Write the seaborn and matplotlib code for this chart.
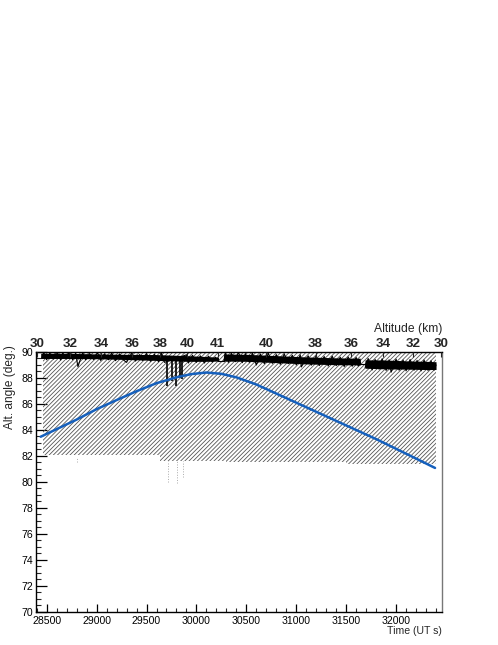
import numpy as np
import pandas as pd
import matplotlib
matplotlib.use("Agg")
import matplotlib.pyplot as plt
import seaborn as sns

# ---------------- data ----------------
# blue curve: time (UT s) vs altitude angle (deg)
blue_t = [28440, 28800, 29000, 29200, 29400, 29600, 29800, 29950, 30100,
          30250, 30400, 30600, 30800, 31000, 31200, 31400, 31600, 31800,
          32000, 32200, 32390]
blue_v = [83.48, 84.8, 85.6, 86.3, 86.98, 87.6, 88.05, 88.3, 88.42,
          88.32, 88.05, 87.5, 86.8, 86.1, 85.4, 84.7, 84.0, 83.3,
          82.55, 81.8, 81.08]

# black measured band: dense core (upper / lower) vs time
band_t = [28440, 28700, 29000, 29300, 29600, 29900, 30100, 30220, 30225,
          30270, 30275, 30500, 30800, 31100, 31400, 31640, 31645, 31685,
          31690, 31900, 32100, 32300, 32400]
band_hi = [89.9, 89.9, 89.85, 89.82, 89.8, 89.72, 89.65, 89.6, 89.32,
           89.32, 89.85, 89.82, 89.72, 89.62, 89.55, 89.52, 89.1, 89.1,
           89.4, 89.38, 89.32, 89.28, 89.25]
band_lo = [89.5, 89.5, 89.48, 89.42, 89.35, 89.28, 89.28, 89.3, 89.28,
           89.28, 89.3, 89.28, 89.18, 89.08, 89.02, 89.0, 89.05, 89.05,
           88.75, 88.7, 88.68, 88.65, 88.65]

# noisy trace of the measurement (time, value), alternating high / low
noise_t = [28450, 28470, 28500, 28530, 28570, 28600, 28640, 28660, 28700,
           28720, 28760, 28790, 28813, 28860, 28890, 28930, 28970, 29010,
           29040, 29080, 29120, 29150, 29190, 29230, 29270, 29300, 29350,
           29390, 29430, 29460, 29500, 29540, 29580, 29620, 29650, 29680,
           29900, 29920, 29960, 30000, 30040, 30080, 30120, 30160, 30190,
           30220]
noise_v = [89.5, 89.98, 89.4, 89.9, 89.45, 90.0, 89.38, 89.92, 89.45,
           89.97, 89.4, 89.9, 88.87, 89.95, 89.4, 89.88, 89.42, 89.95,
           89.35, 89.85, 89.4, 89.92, 89.33, 89.85, 89.38, 89.2, 89.9,
           89.3, 89.8, 89.35, 89.88, 89.28, 89.82, 89.25, 89.9, 89.2,
           89.78, 89.15, 89.75, 89.2, 89.7, 89.15, 89.68, 89.22, 89.6,
           89.3]
noise2_t = [30275, 30290, 30320, 30350, 30390, 30420, 30460, 30490, 30530,
            30560, 30600, 30640, 30680, 30720, 30760, 30800, 30840, 30880,
            30920, 30960, 31000, 31040, 31050, 31120, 31150, 31200, 31230,
            31280, 31320, 31360, 31400, 31440, 31480, 31520, 31560, 31600,
            31620, 31640]
noise2_v = [89.3, 89.98, 89.2, 89.9, 89.25, 90.0, 89.18, 89.88, 89.2,
            89.92, 89.0, 89.85, 89.1, 89.9, 89.12, 89.8, 89.05, 89.85,
            89.1, 89.75, 89.0, 89.78, 88.85, 89.7, 88.98, 89.72, 88.95,
            89.65, 88.92, 89.68, 88.95, 89.6, 88.88, 89.62, 88.9, 89.58,
            88.92, 89.1]
noise3_t = [31690, 31720, 31760, 31790, 31830, 31860, 31900, 31930, 31950,
            32000, 32030, 32070, 32100, 32140, 32180, 32210, 32250, 32280,
            32320, 32350, 32380, 32400]
noise3_v = [88.8, 89.5, 88.62, 89.42, 88.68, 89.48, 88.58, 89.4, 88.45,
            89.45, 88.6, 89.38, 88.55, 89.42, 88.6, 89.35, 88.55, 89.38,
            88.58, 89.32, 88.6, 89.0]

# big downward spikes (time, lowest value)
spike_t = [29710, 29755, 29792, 29832, 29860]
spike_lo = [87.4, 87.8, 87.35, 88.0, 87.9]

# hatched region lower boundary (step)
hatch_t = [28460, 29640, 30300, 31500, 32400]
hatch_lo = [82.08, 81.65, 81.5, 81.42, 81.42]

# faint dotted traces below the hatch
dot_t = [28807, 29717, 29803, 29866]
dot_top = [81.85, 81.6, 81.6, 81.6]
dot_bot = [81.5, 80.0, 79.9, 80.4]

# top axis: altitude labels at their time positions
alt_pos = [28403, 28733, 29043, 29353, 29633, 29903, 30213, 30700, 31193,
           31550, 31873, 32173, 32450]
alt_lab = ["30", "32", "34", "36", "38", "40", "41", "40", "38", "36",
           "34", "32", "30"]

x_ticks = [28500, 29000, 29500, 30000, 30500, 31000, 31500, 32000]
y_ticks = [70, 72, 74, 76, 78, 80, 82, 84, 86, 88, 90]

# ---------------- figure ----------------
sns.set_theme(style="ticks")
plt.rcParams["font.family"] = ["Liberation Sans", "DejaVu Sans"]
plt.rcParams["hatch.linewidth"] = 0.6

fig = plt.figure(figsize=(4.98, 6.45), dpi=100)
fig.patch.set_facecolor("white")
ax = fig.add_axes([0.0723, 0.0512, 0.8153, 0.4031])
ax.set_facecolor("white")

# hatched region
ht = np.array(hatch_t)
ax.fill_between(ht, hatch_lo, 90, step="post", facecolor="none",
                edgecolor="#555555", hatch="////////", linewidth=0, zorder=1)

# dotted faint traces
ax.vlines(dot_t, dot_bot, dot_top, colors="#aaaaaa", linestyles=":",
          linewidth=0.7, zorder=1)

# black band
ax.fill_between(band_t, band_lo, band_hi, color="black", linewidth=0,
                zorder=3)
for tt, vv in [(noise_t, noise_v), (noise2_t, noise2_v), (noise3_t, noise3_v)]:
    ax.plot(tt, vv, color="black", linewidth=0.8, zorder=3)
ax.plot([30220, 30275], [89.3, 89.3], color="black", linewidth=0.8, zorder=3)
ax.plot([31640, 31690], [89.08, 89.08], color="black", linewidth=0.8, zorder=3)
ax.vlines(spike_t, spike_lo, [89.5] * len(spike_t), colors="black",
          linewidth=1.2, zorder=3)

# blue curve
dfb = pd.DataFrame({"t": blue_t, "v": blue_v})
sns.lineplot(data=dfb, x="t", y="v", ax=ax, color="#1560bd",
             linewidth=1.8, zorder=4)

ax.set_xlim(28393, 32460)
ax.set_ylim(70, 90)
ax.set_xticks(x_ticks)
ax.set_xticklabels([str(v) for v in x_ticks], fontsize=7.6)
ax.set_yticks(y_ticks)
ax.set_yticklabels([str(v) for v in y_ticks], fontsize=7.6)
ax.set_xticks(np.arange(28400, 32460, 100), minor=True)
ax.set_yticks(np.arange(70, 90.01, 0.5), minor=True)
ax.tick_params(axis="x", which="major", direction="in", length=6, width=0.9,
               pad=3, colors="black")
ax.tick_params(axis="x", which="minor", direction="in", length=3, width=0.8)
ax.tick_params(axis="y", which="major", direction="in", length=8, width=0.9,
               pad=2, colors="black")
ax.tick_params(axis="y", which="minor", direction="in", length=3.6, width=0.8)

for s in ["left", "bottom", "top"]:
    ax.spines[s].set_color("black")
    ax.spines[s].set_linewidth(1.0)
ax.spines["right"].set_color("#777777")
ax.spines["right"].set_linewidth(1.0)

ax.set_xlabel("Time (UT s)", fontsize=7.6, loc="right")
ax.xaxis.set_label_coords(1.0, -0.053)
ax.xaxis.label.set_va("top")
ax.set_ylabel("Alt. angle (deg.)", fontsize=8.6, loc="top")
ax.yaxis.set_label_coords(-0.05, 1.025)

# top altitude axis
ax2 = ax.twiny()
ax2.set_xlim(ax.get_xlim())
ax2.set_xticks(alt_pos)
ax2.set_xticklabels(alt_lab, fontsize=9.7, fontweight="bold")
ax2.tick_params(axis="x", direction="in", length=3.5, width=0.8, pad=1.5)
ax2.set_xlabel("Altitude (km)", fontsize=8.7, loc="right", labelpad=4)
for s in ax2.spines.values():
    s.set_visible(False)

fig.savefig("out.png", dpi=100, facecolor="white")
